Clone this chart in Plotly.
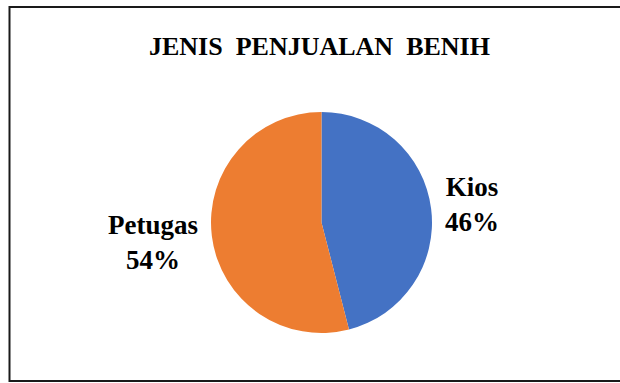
import plotly.graph_objects as go

categories = ["Kios", "Petugas"]
values = [46, 54]
colors = ["#4472C4", "#ED7D31"]
title_text = "JENIS PENJUALAN BENIH"

W, H = 620, 383
cx, cy, r = 321.5, 222.5, 110.5
FAM = "Liberation Serif, Times New Roman, serif"

fig = go.Figure()
fig.add_trace(go.Pie(
    labels=categories,
    values=values,
    sort=False,
    direction="clockwise",
    marker=dict(colors=colors),
    textinfo="none",
    showlegend=False,
    domain=dict(x=[(cx - r) / W, (cx + r) / W], y=[1 - (cy + r) / H, 1 - (cy - r) / H]),
))

total = sum(values)
label_pos = {"Kios": (472, 204), "Petugas": (153, 242)}
for cat, v in zip(categories, values):
    px, py = label_pos[cat]
    fig.add_annotation(
        x=px / W, y=1 - py / H, xref="paper", yref="paper",
        xanchor="center", yanchor="middle", align="center",
        text=f"<b>{cat}<br>{round(100 * v / total)}%</b>",
        showarrow=False,
        font=dict(family=FAM, size=27, color="#000000"),
    )

fig.add_annotation(
    x=319 / W, y=1 - 46 / H, xref="paper", yref="paper",
    xanchor="center", yanchor="middle",
    text="<b>" + "\u00a0\u00a0".join(title_text.split(" ")) + "</b>",
    showarrow=False,
    font=dict(family=FAM, size=26, color="#000000"),
)

fig.add_shape(
    type="rect", xref="paper", yref="paper",
    x0=9.5 / W, x1=1.01, y0=1 - 381 / H, y1=1 - 7 / H,
    line=dict(color="#1a1a1a", width=2),
)

fig.update_layout(
    width=W, height=H,
    font=dict(family=FAM),
    margin=dict(l=0, r=0, t=0, b=0),
    paper_bgcolor="white", plot_bgcolor="white",
)

fig.write_html("out.html")
